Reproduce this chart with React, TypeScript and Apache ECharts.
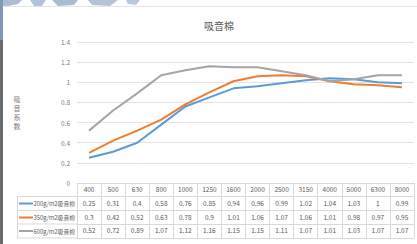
import React, { useEffect, useRef } from "react";
import * as echarts from "echarts";

const categories = ["400", "500", "630", "800", "1000", "1250", "1600", "2000", "2500", "3150", "4000", "5000", "6300", "8000"];
const seriesNames = ["200g/m2吸音棉", "350g/m2吸音棉", "600g/m2吸音棉"];
const s200 = [0.25, 0.31, 0.4, 0.58, 0.76, 0.85, 0.94, 0.96, 0.99, 1.02, 1.04, 1.03, 1, 0.99];
const s350 = [0.3, 0.42, 0.52, 0.63, 0.78, 0.9, 1.01, 1.06, 1.07, 1.06, 1.01, 0.98, 0.97, 0.95];
const s600 = [0.52, 0.72, 0.89, 1.07, 1.12, 1.16, 1.15, 1.15, 1.11, 1.07, 1.01, 1.03, 1.07, 1.07];
const colors = ["#5B9BD5", "#ED7D31", "#A5A5A5"];
const title = "吸音棉";
const yNameChars = ["吸", "音", "系", "数"];

const FONT = "'Noto Sans CJK SC', 'Noto Sans', sans-serif";
const TXT = "#595959";
const BORDER = "#d9d9d9";

export default function App() {
  const ref = useRef<HTMLDivElement>(null);
  useEffect(() => {
    if (!ref.current) return;
    const chart = echarts.init(ref.current, null, { renderer: "svg" });
    const rows = [s200, s350, s600];
    const rowOffsets = [13.5, 27.5, 41];
    const tableAxes: any[] = rows.map((row, r) => ({
      type: "category",
      data: categories,
      position: "bottom",
      offset: rowOffsets[r],
      gridIndex: 0,
      axisLine: { show: true, lineStyle: { color: BORDER, width: 1 } },
      axisTick: { show: false },
      axisLabel: {
        interval: 0,
        margin: 3,
        fontSize: 6.5,
        color: TXT,
        fontFamily: FONT,
        formatter: (_v: string, i: number) => String(row[i]),
      },
    }));
    tableAxes.push({
      type: "category",
      data: categories,
      position: "bottom",
      offset: 55,
      axisLine: { show: true, lineStyle: { color: BORDER, width: 1 } },
      axisTick: { show: false },
      axisLabel: { show: false },
    });

    const rowCenters = [203.5, 217.5, 231];
    const rowLines = [196.5, 210.5, 224, 238];
    const graphic: any[] = [
      { type: "rect", shape: { x: 0, y: 0, width: 3, height: 244 }, style: { fill: "#6b6b6b" } },
      { type: "rect", shape: { x: 0, y: 0, width: 3, height: 40 }, style: { fill: "#7f97b8" } },
      { type: "polygon", shape: { points: [[3, 0], [22, 0], [18, 4], [8, 6], [3, 6]] }, style: { fill: "#a9bcd4" } },
      { type: "polygon", shape: { points: [[30, 0], [46, 0], [42, 6], [34, 6]] }, style: { fill: "#b3c4da" } },
      { type: "polygon", shape: { points: [[52, 0], [78, 0], [74, 5], [58, 6]] }, style: { fill: "#a9bcd4" } },
      { type: "polygon", shape: { points: [[88, 0], [118, 0], [110, 6], [92, 5]] }, style: { fill: "#b3c4da" } },
      { type: "polygon", shape: { points: [[126, 0], [140, 0], [136, 5], [128, 4]] }, style: { fill: "#b9c9dd" } },
      { type: "line", shape: { x1: 4, y1: 6.5, x2: 417, y2: 6.5 }, style: { stroke: "#e4e4e4", lineWidth: 1 } },
      { type: "line", shape: { x1: 17.5, y1: 196.5, x2: 17.5, y2: 238 }, style: { stroke: BORDER, lineWidth: 1 } },
    ];
    yNameChars.forEach((ch, i) => {
      graphic.push({
        type: "text",
        x: 17,
        y: 99 + i * 9,
        style: { text: ch, fontSize: 7, fill: "#7a7a7a", fontFamily: FONT, align: "center", verticalAlign: "middle" },
      });
    });
    rowLines.forEach((y) => {
      graphic.push({ type: "line", shape: { x1: 17.5, y1: y, x2: 77, y2: y }, style: { stroke: BORDER, lineWidth: 1 } });
    });
    seriesNames.forEach((name, i) => {
      graphic.push({ type: "line", shape: { x1: 19, y1: rowCenters[i], x2: 33, y2: rowCenters[i] }, style: { stroke: colors[i], lineWidth: 2 } });
      graphic.push({
        type: "text",
        x: 33.5,
        y: rowCenters[i],
        style: { text: name, fontSize: 5.8, fill: TXT, fontFamily: FONT, verticalAlign: "middle" },
      });
    });

    chart.setOption({
      animation: false,
      backgroundColor: "#ffffff",
      title: {
        text: title,
        left: 214,
        top: 15,
        textAlign: "center",
        textStyle: { fontSize: 10, fontWeight: "normal", color: TXT, fontFamily: FONT },
      },
      grid: { left: 77, right: 3, top: 42, bottom: 61, containLabel: false },
      xAxis: [
        {
          type: "category",
          data: categories,
          boundaryGap: true,
          position: "bottom",
          axisLine: { show: true, lineStyle: { color: BORDER, width: 1 } },
          axisTick: { show: true, length: 55, inside: false, lineStyle: { color: BORDER, width: 1 } },
          axisLabel: { interval: 0, margin: 3, fontSize: 6.5, color: TXT, fontFamily: FONT },
          splitLine: { show: false },
        },
        ...tableAxes,
      ],
      yAxis: {
        type: "value",
        min: 0,
        max: 1.4,
        interval: 0.2,
        axisLine: { show: false },
        axisTick: { show: false },
        axisLabel: { margin: 7, fontSize: 6.5, color: "#7a7a7a", fontFamily: FONT, showMinLabel: true, hideOverlap: false },
        splitLine: { lineStyle: { color: "#e3e3e3", width: 1 } },
      },
      series: [s200, s350, s600].map((d, i) => ({
        type: "line",
        name: seriesNames[i],
        data: d,
        xAxisIndex: 0,
        symbol: "none",
        lineStyle: { color: colors[i], width: 2 },
        itemStyle: { color: colors[i] },
      })),
      graphic,
    });
    return () => chart.dispose();
  }, []);
  return <div ref={ref} style={{ position: "fixed", left: 0, top: 0, width: 417, height: 244 }} />;
}
